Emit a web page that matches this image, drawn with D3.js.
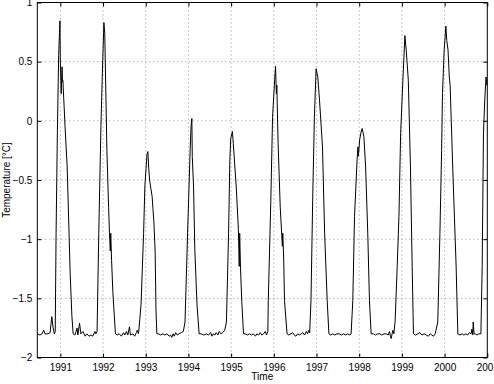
<!DOCTYPE html>
<html>
<head>
<meta charset="utf-8">
<script src="https://cdn.jsdelivr.net/npm/d3@7"></script>
<style>
  html, body { margin: 0; padding: 0; background: #fff; }
  svg { display: block; font-family: "Liberation Sans", Arial, Helvetica, sans-serif; }
</style>
</head>
<body>
<svg id="chart" width="494" height="384"></svg>
<script>
// ---- data (decimal year, temperature in °C) ----
const times = [
  1990.46,1990.52,1990.57,1990.61,1990.64,1990.71,1990.76,1990.78,1990.80,1990.83,1990.86,1990.88,1990.90,1990.93,1990.96,1990.99,
  1991.00,1991.02,1991.04,1991.05,1991.06,1991.11,1991.16,1991.23,1991.27,1991.30,1991.34,1991.37,1991.39,1991.41,1991.45,1991.48,
  1991.53,1991.58,1991.62,1991.67,1991.72,1991.76,1991.81,1991.83,1991.86,1991.90,1991.95,1991.98,
  1992.02,1992.04,1992.09,1992.13,1992.15,1992.17,1992.18,1992.20,1992.23,1992.29,1992.33,1992.38,1992.43,1992.48,1992.51,1992.55,
  1992.58,1992.62,1992.64,1992.70,1992.74,1992.78,1992.80,1992.83,1992.86,1992.89,1992.95,1992.98,
  1993.03,1993.05,1993.07,1993.09,1993.11,1993.15,1993.17,1993.19,1993.22,1993.24,1993.26,1993.30,1993.35,1993.40,1993.45,1993.50,
  1993.55,1993.58,1993.61,1993.64,1993.67,1993.70,1993.74,1993.78,1993.83,1993.88,1993.92,1993.98,
  1994.04,1994.06,1994.08,1994.09,1994.12,1994.15,1994.20,1994.25,1994.30,1994.36,1994.42,1994.47,1994.52,1994.55,1994.58,1994.62,
  1994.65,1994.69,1994.72,1994.76,1994.80,1994.85,1994.89,1994.94,1994.97,1994.99,
  1995.03,1995.05,1995.12,1995.17,1995.19,1995.20,1995.22,1995.25,1995.29,1995.33,1995.38,1995.43,1995.48,1995.52,1995.57,1995.60,
  1995.64,1995.68,1995.72,1995.76,1995.80,1995.83,1995.86,1995.87,1995.93,1995.97,
  1996.02,1996.04,1996.06,1996.07,1996.10,1996.15,1996.20,1996.21,1996.23,1996.25,1996.31,1996.35,1996.40,1996.44,1996.48,1996.52,
  1996.56,1996.60,1996.64,1996.68,1996.72,1996.76,1996.79,1996.82,1996.84,1996.87,1996.91,1996.95,1996.99,
  1997.03,1997.07,1997.14,1997.19,1997.25,1997.29,1997.33,1997.38,1997.43,1997.48,1997.53,1997.58,1997.63,1997.68,1997.73,1997.78,
  1997.81,1997.85,1997.89,1997.95,1997.97,1997.98,
  1998.01,1998.04,1998.07,1998.11,1998.15,1998.20,1998.24,1998.28,1998.33,1998.38,1998.43,1998.48,1998.53,1998.58,1998.63,1998.68,
  1998.71,1998.73,1998.75,1998.77,1998.79,1998.81,1998.84,1998.89,1998.93,1998.97,
  1999.02,1999.07,1999.10,1999.12,1999.15,1999.20,1999.24,1999.27,1999.32,1999.37,1999.42,1999.47,1999.52,1999.57,1999.62,1999.66,
  1999.70,1999.74,1999.78,1999.84,1999.89,1999.93,1999.95,1999.99,
  2000.03,2000.05,2000.08,2000.11,2000.13,2000.19,2000.27,2000.31,2000.36,2000.41,2000.45,2000.50,2000.54,2000.58,2000.62,2000.64,
  2000.66,2000.67,2000.69,2000.72,2000.76,2000.80,2000.83,2000.85,2000.88,2000.91,2000.94,2000.97,2000.99
];
const temps = [
  -1.80,-1.81,-1.80,-1.77,-1.80,-1.80,-1.79,-1.72,-1.655,-1.75,-1.80,-1.78,-0.95,-0.10,0.55,0.845,
  0.485,0.23,0.456,0.33,0.34,-0.05,-0.39,-1.29,-1.65,-1.80,-1.81,-1.78,-1.75,-1.81,-1.71,-1.80,
  -1.78,-1.82,-1.80,-1.82,-1.81,-1.82,-1.78,-1.80,-1.78,-0.95,-0.05,0.35,
  0.83,0.74,-0.25,-0.73,-0.95,-1.10,-0.95,-1.18,-1.45,-1.80,-1.81,-1.80,-1.82,-1.79,-1.81,-1.78,
  -1.81,-1.74,-1.81,-1.80,-1.82,-1.79,-1.77,-1.80,-1.68,-1.55,-0.95,-0.55,
  -0.28,-0.26,-0.40,-0.50,-0.55,-0.64,-0.75,-0.85,-1.10,-1.60,-1.80,-1.80,-1.81,-1.80,-1.81,-1.80,
  -1.82,-1.81,-1.83,-1.80,-1.82,-1.79,-1.81,-1.80,-1.79,-1.78,-1.70,-0.95,
  -0.25,-0.05,0.02,-0.30,-0.56,-1.09,-1.55,-1.80,-1.80,-1.81,-1.80,-1.81,-1.79,-1.82,-1.80,-1.81,
  -1.79,-1.81,-1.78,-1.80,-1.79,-1.77,-1.70,-0.95,-0.33,-0.15,
  -0.09,-0.19,-0.56,-0.92,-1.23,-0.95,-1.25,-1.53,-1.80,-1.80,-1.81,-1.80,-1.81,-1.80,-1.82,-1.80,
  -1.81,-1.79,-1.81,-1.80,-1.78,-1.81,-1.78,-1.52,-0.67,0.03,
  0.35,0.46,0.23,0.30,-0.19,-0.73,-1.06,-0.95,-1.15,-1.52,-1.80,-1.81,-1.80,-1.79,-1.81,-1.82,
  -1.80,-1.81,-1.80,-1.79,-1.81,-1.78,-1.80,-1.77,-1.79,-1.52,-0.67,0.03,0.44,
  0.37,0.175,-0.22,-0.95,-1.52,-1.80,-1.81,-1.80,-1.81,-1.80,-1.80,-1.81,-1.80,-1.81,-1.80,-1.81,
  -1.80,-1.52,-0.81,-0.33,-0.22,-0.30,
  -0.16,-0.10,-0.065,-0.135,-0.39,-0.95,-1.52,-1.80,-1.80,-1.81,-1.80,-1.80,-1.81,-1.80,-1.80,-1.81,
  -1.78,-1.82,-1.84,-1.80,-1.77,-1.80,-1.70,-1.23,-0.81,-0.11,
  0.32,0.72,0.60,0.50,0.34,-0.39,-1.23,-1.80,-1.81,-1.80,-1.79,-1.81,-1.80,-1.81,-1.82,-1.80,
  -1.81,-1.82,-1.80,-1.70,-0.95,-0.25,0.23,0.60,
  0.80,0.68,0.60,0.37,0.30,-0.39,-1.23,-1.80,-1.81,-1.80,-1.81,-1.80,-1.81,-1.79,-1.80,-1.76,
  -1.81,-1.70,-1.80,-1.80,-1.81,-1.80,-1.80,-1.80,-1.23,-0.11,0.175,0.37,0.30
];
const xTicks = [1991,1992,1993,1994,1995,1996,1997,1998,1999,2000,2001];
const yTicks = [-2,-1.5,-1,-0.5,0,0.5,1];
const xLabel = "Time";
const yLabel = "Temperature [°C]";

// ---- layout ----
const L = 37.3, R = 487.3, T = 2.5, B = 357.5;
const svg = d3.select("#chart");
const x = d3.scaleLinear().domain([1990.46, 2001]).range([L, R]);
const y = d3.scaleLinear().domain([-2, 1]).range([B, T]);
const fmtY = v => (v < 0 ? "\u2212" : "") + Math.abs(v);

// grid
const grid = svg.append("g").attr("stroke", "#777").attr("stroke-width", 0.8)
  .attr("stroke-dasharray", "1,3").attr("fill", "none");
grid.selectAll("line.gx").data(xTicks.filter(d => d < 2001)).join("line")
  .attr("x1", d => x(d)).attr("x2", d => x(d)).attr("y1", T).attr("y2", B);
grid.selectAll("line.gy").data(yTicks.filter(d => d > -2 && d < 1)).join("line")
  .attr("y1", d => y(d)).attr("y2", d => y(d)).attr("x1", L).attr("x2", R);

// series
const data = times.map((t, i) => [t, temps[i]]);
svg.append("path").datum(data)
  .attr("fill", "none").attr("stroke", "#000").attr("stroke-width", 1)
  .attr("stroke-linejoin", "round")
  .attr("d", d3.line().x(d => x(d[0])).y(d => y(d[1])));

// axes
const axisStyle = g => {
  g.select(".domain").remove();
  g.selectAll(".tick line").attr("stroke", "#000");
  g.selectAll(".tick text").attr("fill", "#000").attr("font-size", 10);
};
svg.append("g").attr("transform", `translate(0,${B})`)
  .call(d3.axisBottom(x).tickValues(xTicks).tickFormat(d3.format("d")).tickSizeInner(-4).tickSizeOuter(0).tickPadding(6))
  .call(axisStyle);
svg.append("g").attr("transform", `translate(0,${T})`)
  .call(d3.axisTop(x).tickValues(xTicks).tickFormat("").tickSizeInner(-4).tickSizeOuter(0))
  .call(axisStyle);
svg.append("g").attr("transform", `translate(${L},0)`)
  .call(d3.axisLeft(y).tickValues(yTicks).tickFormat(fmtY).tickSizeInner(-4).tickSizeOuter(0).tickPadding(5))
  .call(axisStyle);
svg.append("g").attr("transform", `translate(${R},0)`)
  .call(d3.axisRight(y).tickValues(yTicks).tickFormat("").tickSizeInner(-4).tickSizeOuter(0))
  .call(axisStyle);

// frame
svg.append("rect").attr("x", L).attr("y", T).attr("width", R - L).attr("height", B - T)
  .attr("fill", "none").attr("stroke", "#000").attr("stroke-width", 1);

// labels
svg.append("text").attr("x", (L + R) / 2).attr("y", 380).attr("text-anchor", "middle")
  .attr("font-size", 10).text(xLabel);
svg.append("text").attr("transform", `translate(10,${(T + B) / 2}) rotate(-90)`)
  .attr("text-anchor", "middle").attr("font-size", 10).text(yLabel);
</script>
</body>
</html>
